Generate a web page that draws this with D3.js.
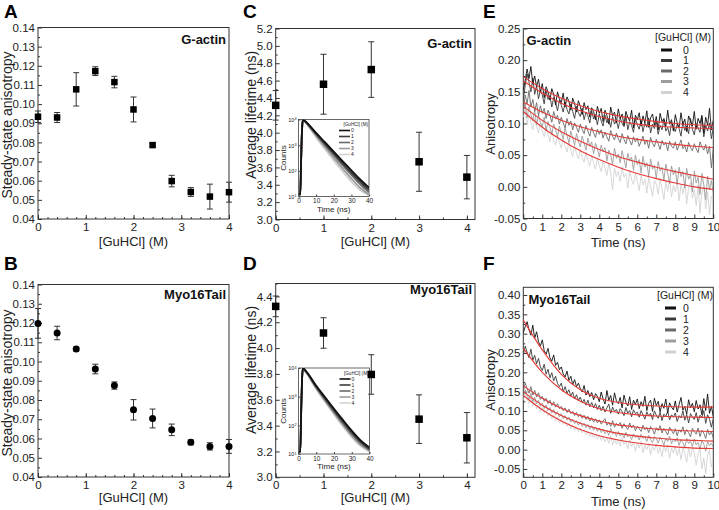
<!DOCTYPE html>
<html><head><meta charset="utf-8">
<script src="https://cdn.jsdelivr.net/npm/d3@7"></script>
<style>body{margin:0;background:#fff;} svg{display:block;font-family:"Liberation Sans",Arial,sans-serif;}</style>
</head><body><svg id="c" width="719" height="510"></svg>
<script>
// ---------- DATA ----------
const guSS = [0,0.4,0.8,1.2,1.6,2.0,2.4,2.8,3.2,3.6,4.0];
const ssaActin = [0.0934,0.0930,0.1077,0.1172,0.1115,0.0972,0.0786,0.0598,0.0541,0.0517,0.0540];
const ssaActinErr = [0.0030,0.0026,0.0087,0.0023,0.0030,0.0065,0.0010,0.0030,0.0023,0.0065,0.0052];
const ssaMyo = [0.1198,0.1148,0.1065,0.0961,0.0875,0.0749,0.0704,0.0645,0.0580,0.0559,0.0559];
const ssaMyoErr = [0.0077,0.0035,0.0010,0.0025,0.0019,0.0053,0.0049,0.0030,0.0013,0.0019,0.0036];

const guLT = [0,1,2,3,4];
const ltActin = [4.315,4.558,4.727,3.665,3.488];
const ltActinErr = [0.17,0.345,0.32,0.34,0.25];
const ltMyo = [4.323,4.117,3.796,3.450,3.306];
const ltMyoErr = [0.08,0.118,0.153,0.188,0.195];

const ssYTicks = [0.04,0.05,0.06,0.07,0.08,0.09,0.10,0.11,0.12,0.13,0.14];
const ssYLabels = ["0.04","0.05","0.06","0.07","0.08","0.09","0.10","0.11","0.12","0.13","0.14"];
const guTicks = [0,1,2,3,4];
const guLabels = ["0","1","2","3","4"];
const ltCTicks = [3.0,3.2,3.4,3.6,3.8,4.0,4.2,4.4,4.6,4.8,5.0,5.2];
const ltCLabels = ["3.0","3.2","3.4","3.6","3.8","4.0","4.2","4.4","4.6","4.8","5.0","5.2"];
const ltDTicks = [3.0,3.2,3.4,3.6,3.8,4.0,4.2,4.4];
const ltDLabels = ["3.0","3.2","3.4","3.6","3.8","4.0","4.2","4.4"];
const timeTicks = [0,1,2,3,4,5,6,7,8,9,10];
const timeLabels = ["0","1","2","3","4","5","6","7","8","9","10"];
const anisoETicks = [-0.05,0,0.05,0.10,0.15,0.20,0.25];
const anisoELabels = ["-0.05","0.00","0.05","0.10","0.15","0.20","0.25"];
const anisoFTicks = [-0.05,0,0.05,0.10,0.15,0.20,0.25,0.30,0.35,0.40];
const anisoFLabels = ["-0.05","0.00","0.05","0.10","0.15","0.20","0.25","0.30","0.35","0.40"];
const guLegend = ["0","1","2","3","4"];
const grays = ["#111111","#3a3a3a","#6a6a6a","#9c9c9c","#d2d2d2"];

// anisotropy decay traces (t in ns)
const traceT = [0,.1,.2,.3,.4,.5,.6,.7,.8,.9,1,1.1,1.2,1.3,1.4,1.5,1.6,1.7,1.8,1.9,2,2.1,2.2,2.3,2.4,2.5,2.6,2.7,2.8,2.9,3,3.1,3.2,3.3,3.4,3.5,3.6,3.7,3.8,3.9,4,4.1,4.2,4.3,4.4,4.5,4.6,4.7,4.8,4.9,5,5.1,5.2,5.3,5.4,5.5,5.6,5.7,5.8,5.9,6,6.1,6.2,6.3,6.4,6.5,6.6,6.7,6.8,6.9,7,7.1,7.2,7.3,7.4,7.5,7.6,7.7,7.8,7.9,8,8.1,8.2,8.3,8.4,8.5,8.6,8.7,8.8,8.9,9,9.1,9.2,9.3,9.4,9.5,9.6,9.7,9.8,9.9,10];
const actinTr0 = [.152,.168,.186,.171,.190,.162,.175,.158,.170,.149,
 .163,.141,.158,.150,.137,.155,.146,.129,.150,.139,
 .133,.148,.126,.142,.135,.121,.140,.131,.118,.136,
 .127,.114,.133,.122,.128,.110,.125,.119,.106,.127,
 .116,.124,.103,.121,.113,.099,.126,.112,.118,.101,
 .123,.108,.115,.097,.119,.110,.104,.121,.093,.113,
 .106,.117,.096,.112,.101,.120,.094,.109,.115,.097,
 .111,.090,.116,.103,.108,.095,.121,.099,.106,.088,
 .114,.101,.093,.117,.098,.107,.087,.112,.104,.096,
 .119,.091,.108,.100,.113,.085,.110,.097,.124,.090,.105];
const actinTr1 = [.138,.160,.178,.165,.150,.172,.146,.160,.139,.153,
 .145,.131,.152,.138,.144,.126,.141,.133,.120,.137,
 .129,.118,.134,.122,.115,.131,.119,.108,.127,.117,
 .111,.124,.106,.118,.112,.101,.120,.107,.114,.098,
 .115,.104,.096,.113,.101,.108,.094,.111,.099,.105,
 .092,.109,.100,.095,.112,.090,.103,.097,.086,.108,
 .098,.091,.105,.087,.101,.094,.109,.085,.099,.092,
 .104,.083,.097,.090,.106,.088,.094,.081,.102,.095,
 .087,.099,.092,.080,.103,.089,.096,.084,.108,.091,
 .082,.100,.093,.086,.110,.079,.097,.088,.101,.076,.094];
const actinTr2 = [.120,.145,.131,.152,.126,.138,.119,.133,.112,.128,
 .116,.124,.108,.121,.113,.102,.119,.107,.113,.099,
 .110,.101,.093,.108,.097,.104,.090,.101,.094,.086,
 .099,.091,.084,.097,.088,.080,.094,.085,.078,.091,
 .083,.090,.077,.086,.079,.072,.089,.080,.074,.085,
 .076,.070,.084,.075,.068,.081,.073,.066,.079,.071,
 .077,.064,.072,.080,.067,.074,.061,.078,.069,.063,
 .075,.068,.059,.073,.066,.070,.057,.072,.064,.061,
 .071,.058,.066,.074,.060,.065,.055,.070,.062,.057,
 .068,.060,.054,.071,.063,.058,.067,.052,.064,.030,.061];
const actinTr3 = [.118,.132,.109,.127,.115,.104,.121,.098,.113,.102,
 .095,.110,.088,.103,.094,.083,.099,.090,.079,.096,
 .085,.076,.093,.081,.070,.088,.077,.066,.084,.072,
 .063,.080,.069,.058,.077,.064,.071,.052,.069,.060,
 .047,.066,.055,.062,.041,.058,.050,.036,.061,.045,
 .052,.038,.057,.044,.030,.053,.041,.047,.026,.050,
 .035,.043,.022,.048,.031,.038,.017,.044,.028,.034,
 .013,.040,.025,.031,.010,.036,.022,.005,.033,.019,
 .027,.004,.031,.016,.024,-.002,.029,.012,.020,-.008,
 .025,.006,.015,-.012,.021,.003,-.020,.017,-.005,.010,-.010];
const actinTr4 = [.110,.121,.098,.115,.102,.090,.108,.094,.085,.101,
 .088,.079,.095,.083,.071,.089,.075,.066,.082,.070,
 .061,.077,.064,.055,.071,.058,.048,.066,.052,.044,
 .060,.046,.039,.055,.042,.033,.050,.037,.028,.046,
 .034,.024,.041,.029,.018,.037,.022,-.005,.030,.016,
 .025,.008,.031,.015,.021,-.002,.026,.011,.004,.022,
 .009,-.006,.018,.003,.012,-.010,.015,.000,-.015,.010,
 .004,-.012,.013,-.003,-.020,.008,-.007,.011,-.016,.002,
 -.008,.009,-.022,.004,-.011,.006,-.027,-.002,.007,-.018,
 -.004,-.030,.003,-.041,-.010,.001,-.035,-.008,-.044,-.015,-.020];
const myoTr0 = [.302,.318,.331,.310,.296,.322,.288,.305,.279,.268,
 .284,.256,.247,.262,.238,.229,.245,.218,.226,.207,
 .214,.196,.188,.203,.179,.190,.168,.181,.163,.172,
 .158,.149,.166,.141,.153,.137,.148,.129,.145,.138,
 .124,.149,.131,.118,.153,.127,.140,.115,.147,.126,
 .119,.135,.108,.141,.122,.113,.137,.104,.128,.117,
 .131,.106,.124,.112,.138,.101,.120,.128,.099,.133,
 .114,.125,.098,.119,.107,.131,.095,.121,.110,.103,
 .126,.097,.117,.135,.102,.112,.092,.129,.108,.120,
 .098,.127,.105,.116,.090,.132,.101,.144,.094,.112,.085];
const myoTr1 = [.245,.268,.252,.238,.260,.231,.244,.222,.236,.214,
 .205,.221,.195,.208,.186,.199,.178,.190,.171,.163,
 .172,.150,.163,.146,.155,.138,.149,.131,.142,.127,
 .136,.121,.130,.115,.128,.111,.122,.108,.119,.104,
 .115,.101,.112,.097,.108,.118,.094,.110,.099,.104,
 .092,.106,.098,.088,.109,.094,.101,.085,.103,.093,
 .097,.084,.101,.090,.079,.098,.087,.094,.078,.100,
 .089,.081,.097,.075,.092,.086,.099,.077,.090,.084,
 .095,.073,.088,.082,.100,.076,.091,.069,.093,.085,
 .078,.096,.071,.089,.083,.101,.068,.090,.079,.058,.080];
const myoTr2 = [.150,.172,.158,.146,.163,.141,.153,.136,.147,.130,
 .138,.125,.133,.119,.128,.114,.124,.110,.119,.106,
 .112,.101,.108,.096,.105,.093,.099,.088,.096,.085,
 .092,.081,.089,.078,.086,.074,.083,.071,.080,.069,
 .077,.066,.074,.080,.063,.071,.060,.075,.058,.068,
 .062,.070,.055,.067,.059,.052,.069,.056,.064,.049,
 .061,.054,.047,.063,.051,.058,.044,.060,.052,.040,
 .057,.049,.062,.043,.055,.047,.038,.058,.050,.041,
 .054,.036,.051,.045,.059,.039,.052,.044,.033,.055,
 .047,.040,.056,.034,.050,.043,.029,.052,.038,.046,.030];
const myoTr3 = [.138,.155,.142,.130,.146,.124,.136,.119,.128,.112,
 .120,.106,.115,.101,.109,.095,.104,.091,.098,.085,
 .093,.080,.088,.076,.084,.071,.079,.067,.075,.063,
 .072,.060,.068,.057,.065,.053,.062,.050,.058,.047,
 .056,.044,.052,.041,.049,.037,.055,.040,.046,.034,
 .047,.035,.042,.030,.045,.033,.038,.026,.041,.031,
 .036,.025,.040,.029,.033,.021,.037,.026,.018,.034,
 .028,.017,.032,.024,.012,.030,.021,.035,.015,.027,
 .020,.031,.011,.026,.018,.005,.029,.016,.022,.008,
 .027,.012,.019,.001,.024,.014,-.004,.021,.010,.017,.006];
const myoTr4 = [.128,.146,.131,.119,.136,.112,.125,.105,.117,.097,
 .108,.094,.102,.087,.096,.080,.090,.074,.084,.069,
 .079,.065,.073,.060,.069,.054,.064,.050,.059,.046,
 .056,.043,.051,.039,.047,.034,.044,.030,.040,.027,
 .038,.024,.034,.020,.031,.016,.036,.012,.027,.014,
 .026,.009,.030,.013,.022,.002,.025,.008,.019,-.004,
 .017,.004,.021,-.008,.012,.000,.015,-.013,.009,-.002,
 .014,-.010,.006,-.018,.010,-.005,.012,-.022,.004,-.009,
 .008,-.015,.003,-.026,.006,-.011,-.033,.002,-.019,.005,
 -.008,-.040,-.012,.001,-.050,-.021,-.062,-.014,.000,-.045,-.030];

// fitted curves
const fitT = [0,1,2,3,4,5,6,7,8,9,10];
const actinFitA = [.174,.155,.140,.128,.119,.112,.107,.103,.100,.098,.097];
const actinFitB = [.167,.148,.132,.120,.111,.104,.099,.096,.094,.093,.092];
const actinFitC = [.134,.118,.105,.095,.087,.080,.075,.071,.067,.064,.062];
const actinFitD = [.127,.105,.087,.072,.059,.048,.039,.031,.024,.018,.012];
const actinFitE = [.119,.094,.074,.057,.043,.031,.021,.013,.006,.000,-.004];
const myoFitA = [.335,.258,.195,.155,.133,.122,.116,.113,.111,.110,.110];
const myoFitB = [.262,.200,.155,.125,.106,.096,.090,.087,.085,.084,.083];
const myoFitC = [.165,.133,.107,.088,.074,.064,.058,.053,.050,.048,.047];
const myoFitD = [.150,.115,.088,.068,.053,.042,.035,.030,.026,.024,.022];
const myoFitE = [.140,.103,.074,.052,.036,.025,.017,.011,.007,.004,.003];

// fluorescence decays (insets)
const decayT = [0,1,1.5,2,2.5,3,5,10,15,20,25,30,35,40];
const actinDecay0 = [12,12,300,4000,10000,9600,7200,3000,1300,560,240,105,46,22];
const actinDecay1 = [12,12,300,4000,10000,9500,7000,2800,1150,480,200,85,37,18];
const actinDecay2 = [12,12,300,4000,10000,9400,6800,2600,1020,410,168,70,30,15];
const actinDecay3 = [12,12,300,4000,10000,9300,6500,2300,850,320,125,50,22,12];
const actinDecay4 = [12,12,300,4000,10000,9200,6200,2000,700,250,95,38,18,11];
const myoDecay0 = [12,12,300,4000,10000,9400,6800,2400,950,380,155,65,30,17];
const myoDecay1 = [12,12,300,4000,10000,9300,6600,2250,870,340,138,58,27,15];
const myoDecay2 = [12,12,300,4000,10000,9200,6400,2100,800,305,120,50,24,14];
const myoDecay3 = [12,12,300,4000,10000,9100,6200,1950,720,270,105,44,21,13];
const myoDecay4 = [12,12,300,4000,10000,9000,6000,1800,650,240,92,38,19,12];
const insetXTicks = [0,10,20,30,40];
const insetYTicks = [10,100,1000,10000];
const insetYExp = ["1","2","3","4"];

// ---------- DRAWING ----------
const svg = d3.select("#c");
const AX = "#333";
let clipId = 0;
const baseLayer = svg.append("g");
const insetLayer = svg.append("g");
const topLayer = svg.append("g");

function panel(o){
  const g = baseLayer.append("g");
  const x = d3.scaleLinear().domain(o.xd).range([o.l, o.r]);
  const y = d3.scaleLinear().domain(o.yd).range([o.b, o.t]);
  g.append("g").attr("transform",`translate(0,${o.b})`)
    .call(d3.axisBottom(x).tickValues(o.xMinor).tickSize(-2).tickFormat(""))
    .call(s=>s.select(".domain").remove()).selectAll("line").attr("stroke",AX);
  g.append("g").attr("transform",`translate(${o.l},0)`)
    .call(d3.axisLeft(y).tickValues(o.yMinor).tickSize(-2).tickFormat(""))
    .call(s=>s.select(".domain").remove()).selectAll("line").attr("stroke",AX);
  const xa = g.append("g").attr("transform",`translate(0,${o.b})`)
    .call(d3.axisBottom(x).tickValues(o.xTicks).tickSize(-4).tickPadding(4).tickFormat((d,i)=>o.xLabels[i]));
  xa.select(".domain").remove();
  xa.selectAll("line").attr("stroke",AX);
  xa.selectAll("text").attr("font-size",11.5).attr("fill","#222").attr("font-family","Liberation Sans, Arial, sans-serif");
  const ya = g.append("g").attr("transform",`translate(${o.l},0)`)
    .call(d3.axisLeft(y).tickValues(o.yTicks).tickSize(-4).tickPadding(3).tickFormat((d,i)=>o.yLabels[i]));
  ya.select(".domain").remove();
  ya.selectAll("line").attr("stroke",AX);
  ya.selectAll("text").attr("font-size",11.5).attr("fill","#222").attr("font-family","Liberation Sans, Arial, sans-serif");
  g.append("rect").attr("x",o.l).attr("y",o.t).attr("width",o.r-o.l).attr("height",o.b-o.t)
    .attr("fill","none").attr("stroke",AX).attr("stroke-width",1);
  g.append("text").attr("x",(o.l+o.r)/2).attr("y",o.xtY).attr("text-anchor","middle")
    .attr("font-size",o.xtSize||13).attr("fill","#222").text(o.xTitle);
  g.append("text").attr("transform",`translate(${o.ytX},${o.ytC}) rotate(-90)`).attr("text-anchor","middle")
    .attr("font-size",o.ytSize||14).attr("fill","#222").text(o.yTitle);
  g.append("text").attr("x",o.letX).attr("y",o.letY).attr("font-size",19).attr("font-weight","bold").text(o.letter);
  g.append("text").attr("x",o.nameX).attr("y",o.nameY).attr("text-anchor",o.nameAnchor||"end")
    .attr("font-size",13).attr("font-weight","bold").attr("fill","#111").text(o.name);
  const id = "clip"+(clipId++);
  svg.append("clipPath").attr("id",id).append("rect").attr("x",o.l).attr("y",o.t).attr("width",o.r-o.l).attr("height",o.b-o.t);
  return {g,x,y,id};
}

function errPoints(p, xs, ys, es, shape, size){
  const d = xs.map((v,i)=>({x:v,y:ys[i],e:es[i]}));
  const pg = topLayer.append("g");
  const eg = pg.append("g").attr("stroke","#333").attr("stroke-width",1);
  d.forEach(o=>{
    const cx = p.x(o.x), y1 = p.y(o.y+o.e), y2 = p.y(o.y-o.e);
    eg.append("line").attr("x1",cx).attr("x2",cx).attr("y1",y1).attr("y2",y2);
    eg.append("line").attr("x1",cx-3).attr("x2",cx+3).attr("y1",y1).attr("y2",y1);
    eg.append("line").attr("x1",cx-3).attr("x2",cx+3).attr("y1",y2).attr("y2",y2);
  });
  if(shape==="square"){
    pg.selectAll(null).data(d).join("rect").attr("x",o=>p.x(o.x)-size/2).attr("y",o=>p.y(o.y)-size/2)
      .attr("width",size).attr("height",size).attr("fill","#000");
  } else {
    pg.selectAll(null).data(d).join("circle").attr("cx",o=>p.x(o.x)).attr("cy",o=>p.y(o.y)).attr("r",size/2).attr("fill","#000");
  }
}

function minorRange(a,b,s){ return d3.range(a, b+s/2, s).map(v=>+v.toFixed(4)); }

// Panel A
const pA = panel({l:38,r:229,t:27.5,b:219,xd:[0,4],yd:[0.04,0.14],xTicks:guTicks,xLabels:guLabels,xMinor:minorRange(0,4,0.2),
  yTicks:ssYTicks,yLabels:ssYLabels,yMinor:minorRange(0.045,0.135,0.01),xTitle:"[GuHCl] (M)",xtY:246,yTitle:"Steady-state anisotropy",ytX:12,ytC:125,
  letter:"A",letX:4,letY:18,name:"G-actin",nameX:226,nameY:44});
errPoints(pA, guSS, ssaActin, ssaActinErr, "square", 6.5);

// Panel B
const pB = panel({l:38,r:229,t:284.5,b:477,xd:[0,4],yd:[0.04,0.14],xTicks:guTicks,xLabels:guLabels,xMinor:minorRange(0,4,0.2),
  yTicks:ssYTicks,yLabels:ssYLabels,yMinor:minorRange(0.045,0.135,0.01),xTitle:"[GuHCl] (M)",xtY:502,yTitle:"Steady-state anisotropy",ytX:12,ytC:383,
  letter:"B",letX:4,letY:270,name:"Myo16Tail",nameX:226,nameY:299});
errPoints(pB, guSS, ssaMyo, ssaMyoErr, "circle", 7);

// Panel C
const pC = panel({l:275.7,r:475,t:28.5,b:219.5,xd:[0,4.17],yd:[3.0,5.2],xTicks:guTicks,xLabels:guLabels,xMinor:minorRange(0,4,0.5),
  yTicks:ltCTicks,yLabels:ltCLabels,yMinor:minorRange(3.1,5.1,0.2),xTitle:"[GuHCl] (M)",xtY:246,yTitle:"Average lifetime (ns)",ytX:256,ytC:115,
  letter:"C",letX:243,letY:18,name:"G-actin",nameX:472,nameY:48});
errPoints(pC, guLT, ltActin, ltActinErr, "square", 7.5);

// Panel D
const pD = panel({l:275.7,r:475,t:283.5,b:477.3,xd:[0,4.17],yd:[3.0,4.5],xTicks:guTicks,xLabels:guLabels,xMinor:minorRange(0,4,0.5),
  yTicks:ltDTicks,yLabels:ltDLabels,yMinor:minorRange(3.1,4.5,0.2),xTitle:"[GuHCl] (M)",xtY:502,yTitle:"Average lifetime (ns)",ytX:256,ytC:370,
  letter:"D",letX:243,letY:270,name:"Myo16Tail",nameX:472,nameY:294});
errPoints(pD, guLT, ltMyo, ltMyoErr, "square", 7.5);

// Panels E, F
const lineGen = (p)=>d3.line().x(d=>p.x(d[0])).y(d=>p.y(d[1]));
function decayPanel(p, traces, fits, lo){
  const tg = p.g.append("g").attr("clip-path",`url(#${p.id})`);
  for(let i=traces.length-1;i>=0;i--){
    tg.append("path").attr("d", lineGen(p)(traceT.map((t,j)=>[t,traces[i][j]])))
      .attr("fill","none").attr("stroke",grays[i]).attr("stroke-width",0.9).attr("stroke-linejoin","round");
  }
  const fl = d3.line().x(d=>p.x(d[0])).y(d=>p.y(d[1])).curve(d3.curveMonotoneX);
  fits.forEach(f=>{
    tg.append("path").attr("d", fl(fitT.map((t,j)=>[t,f[j]]))).attr("fill","none").attr("stroke","#e53935").attr("stroke-width",1.1);
  });
  const lg = p.g.append("g");
  lg.append("text").attr("x",lo.titleX).attr("y",lo.titleY).attr("font-size",10.5).attr("fill","#222").text("[GuHCl] (M)");
  guLegend.forEach((s,i)=>{
    const yy = lo.ys[i];
    lg.append("line").attr("x1",lo.lx1).attr("x2",lo.lx2).attr("y1",yy).attr("y2",yy).attr("stroke",grays[i]).attr("stroke-width",3);
    lg.append("text").attr("x",lo.tx).attr("y",yy+3.6).attr("font-size",10.5).attr("fill","#222").text(s);
  });
}
const pE = panel({l:523.3,r:713.3,t:28.5,b:218.5,xd:[0,10],yd:[-0.05,0.25],xTicks:timeTicks,xLabels:timeLabels,xMinor:minorRange(0.5,9.5,1),
  yTicks:anisoETicks,yLabels:anisoELabels,yMinor:minorRange(-0.025,0.225,0.05),xTitle:"Time (ns)",xtY:247,yTitle:"Anisotropy",ytX:495,ytC:124,ytSize:13,
  letter:"E",letX:483,letY:18,name:"G-actin",nameX:526.5,nameY:45,nameAnchor:"start"});
decayPanel(pE,[actinTr0,actinTr1,actinTr2,actinTr3,actinTr4],[actinFitA,actinFitB,actinFitC,actinFitD,actinFitE],
  {titleX:655,titleY:40.5,lx1:661,lx2:672,tx:683,ys:[50,60.5,71,81.5,92.5]});

const pF = panel({l:523.3,r:713.3,t:287.3,b:477.3,xd:[0,10],yd:[-0.0716,0.42],xTicks:timeTicks,xLabels:timeLabels,xMinor:minorRange(0.5,9.5,1),
  yTicks:anisoFTicks,yLabels:anisoFLabels,yMinor:minorRange(-0.025,0.375,0.05),xTitle:"Time (ns)",xtY:506,yTitle:"Anisotropy",ytX:495,ytC:380,ytSize:13,
  letter:"F",letX:483,letY:270,name:"Myo16Tail",nameX:528.5,nameY:304,nameAnchor:"start"});
decayPanel(pF,[myoTr0,myoTr1,myoTr2,myoTr3,myoTr4],[myoFitA,myoFitB,myoFitC,myoFitD,myoFitE],
  {titleX:657,titleY:299,lx1:665,lx2:676,tx:683,ys:[308,319,330,341,352]});

// Insets (drawn below the data markers)
function inset(o, decays){
  const g = insetLayer.append("g");
  const x = d3.scaleLinear().domain([0,40]).range([o.l,o.r]);
  const y = d3.scaleLog().domain([10,10000]).range([o.b,o.t]);
  g.append("rect").attr("x",o.l).attr("y",o.t).attr("width",o.r-o.l).attr("height",o.b-o.t).attr("fill","#fff").attr("stroke","#444").attr("stroke-width",0.8);
  const id="clip"+(clipId++);
  svg.append("clipPath").attr("id",id).append("rect").attr("x",o.l).attr("y",o.t).attr("width",o.r-o.l).attr("height",o.b-o.t);
  const cg = g.append("g").attr("clip-path",`url(#${id})`);
  const ln = d3.line().x(d=>x(d[0])).y(d=>y(d[1])).curve(d3.curveMonotoneX);
  for(let i=decays.length-1;i>=0;i--){
    cg.append("path").attr("d",ln(decayT.map((t,j)=>[t,decays[i][j]]))).attr("fill","none").attr("stroke",grays[i]).attr("stroke-width",1.8);
  }
  const xa = g.append("g").attr("transform",`translate(0,${o.b})`)
    .call(d3.axisBottom(x).tickValues(insetXTicks).tickSize(-2).tickPadding(2));
  xa.select(".domain").remove(); xa.selectAll("line").attr("stroke","#444");
  xa.selectAll("text").attr("font-size",6.5).attr("fill","#222");
  const ya = g.append("g").attr("transform",`translate(${o.l},0)`)
    .call(d3.axisLeft(y).tickValues(insetYTicks).tickSize(-2).tickPadding(2).tickFormat(""));
  ya.select(".domain").remove(); ya.selectAll("line").attr("stroke","#444");
  ya.selectAll(".tick").append("text").attr("x",-2).attr("dy","0.35em").attr("text-anchor","end").attr("font-size",5.5).attr("fill","#222")
    .each(function(d,i){ const t=d3.select(this); t.append("tspan").text("10"); t.append("tspan").attr("dy","-0.45em").attr("font-size",3.8).text(insetYExp[i]); });
  g.append("text").attr("x",(o.l+o.r)/2).attr("y",o.b+15).attr("text-anchor","middle").attr("font-size",8).attr("fill","#222").text("Time (ns)");
  g.append("text").attr("transform",`translate(${o.l-13},${(o.t+o.b)/2}) rotate(-90)`).attr("text-anchor","middle").attr("font-size",8).attr("fill","#222").text("Counts");
  g.append("text").attr("x",o.r-1).attr("y",o.t+6.5).attr("text-anchor","end").attr("font-size",4.6).attr("fill","#222").text("[GuHCl] (M)");
  guLegend.forEach((s,i)=>{
    const yy = o.t+11+i*6;
    g.append("line").attr("x1",o.r-30).attr("x2",o.r-19).attr("y1",yy).attr("y2",yy).attr("stroke",grays[i]).attr("stroke-width",1.6);
    g.append("text").attr("x",o.r-18).attr("y",yy+1.8).attr("font-size",5).attr("fill","#222").text(s);
  });
}
inset({l:298.5,r:369,t:119.5,b:196.5},[actinDecay0,actinDecay1,actinDecay2,actinDecay3,actinDecay4]);
inset({l:298.5,r:369.5,t:368,b:454},[myoDecay0,myoDecay1,myoDecay2,myoDecay3,myoDecay4]);
</script></body></html>
